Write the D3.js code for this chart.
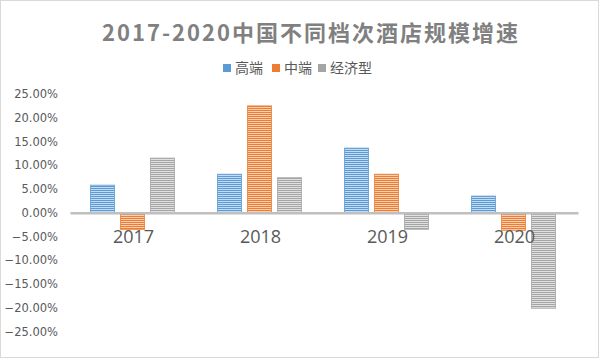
<!DOCTYPE html>
<html><head><meta charset="utf-8">
<script src="https://cdn.jsdelivr.net/npm/d3@7"></script>
<style>html,body{margin:0;padding:0;background:#fff;}svg{display:block;}</style>
</head><body>
<svg id="chart" width="600" height="360"></svg>
<script>
const title = "2017-2020中国不同档次酒店规模增速";
const years = ["2017", "2018", "2019", "2020"];
const seriesNames = ["高端", "中端", "经济型"];
const highEnd = [5.8, 8.1, 13.6, 3.5];
const midRange = [-3.5, 22.5, 8.1, -3.7];
const economy = [11.5, 7.4, -3.5, -20.1];
const yTicks = [25, 20, 15, 10, 5, 0, -5, -10, -15, -20, -25];
const colors = ["#5b9bd5", "#ed7d31", "#a5a5a5"];
const lightColors = ["#c4dbf1", "#f8cfb2", "#e0e0e0"];

const seriesValues = [highEnd, midRange, economy];
const svg = d3.select("#chart");
const defs = svg.append("defs");
colors.forEach((c, i) => {
  const p = defs.append("pattern").attr("id", "pat" + i)
    .attr("patternUnits", "userSpaceOnUse").attr("width", 4).attr("height", 2);
  p.append("rect").attr("width", 4).attr("height", 2).attr("fill", lightColors[i]);
  p.append("rect").attr("width", 4).attr("height", 1).attr("fill", c);
});

svg.append("rect").attr("x", 0.5).attr("y", 0.5).attr("width", 598).attr("height", 357)
  .attr("fill", "#fff").attr("stroke", "#d9d9d9");

svg.append("text").attr("x", 311).attr("y", 41).attr("text-anchor", "middle")
  .attr("font-family", "'Noto Sans CJK SC', sans-serif").attr("font-weight", "bold")
  .attr("font-size", 22).attr("letter-spacing", 2).attr("fill", "#808080").text(title);

const x0 = d3.scaleBand().domain(years).range([70, 578]).padding(0);
const x1 = d3.scaleBand().domain(seriesNames).range([20, 105]).paddingInner(1/6);
const y = d3.scaleLinear().domain([-25, 25]).range([331.5, 94]);

// y tick labels
const yAxis = d3.axisLeft(y).tickValues(yTicks).tickSize(0).tickPadding(0)
  .tickFormat(d => d3.format(".2f")(d) + "%");
const ya = svg.append("g").attr("transform", "translate(58,0)").call(yAxis);
ya.select(".domain").remove();
ya.selectAll("text").attr("font-family", "'DejaVu Sans', sans-serif").attr("font-size", 11.5)
  .attr("fill", "#595959");

// bars
const g = svg.append("g");
seriesNames.forEach((s, si) => {
  g.selectAll(".b" + si).data(years).enter().append("rect")
    .attr("x", d => x0(d) + x1(s) + 0.5)
    .attr("width", x1.bandwidth() - 1)
    .attr("y", (d, i) => Math.min(y(seriesValues[si][i]), y(0)))
    .attr("height", (d, i) => Math.abs(y(seriesValues[si][i]) - y(0)))
    .attr("fill", "url(#pat" + si + ")")
    .attr("stroke", colors[si]).attr("stroke-opacity", 0.8).attr("stroke-width", 1);
});

// x axis
const xAxis = d3.axisBottom(x0).tickSize(0).tickPadding(0);
const xa = svg.append("g").attr("transform", `translate(0,${y(0)})`).call(xAxis);
xa.select(".domain").attr("stroke", "#bfbfbf").attr("stroke-width", 2.5);
xa.selectAll("text").attr("font-family", "'Open Sans', sans-serif").attr("font-size", 18)
  .attr("fill", "#595959").attr("dy", "1.7em").attr("y", 0);

// legend
const legendX = [223, 272, 318];
seriesNames.forEach((s, i) => {
  const lg = svg.append("g").attr("transform", `translate(${legendX[i]},64)`);
  lg.append("rect").attr("width", 8).attr("height", 8).attr("fill", colors[i]);
  lg.append("text").attr("x", 12).attr("y", 8.5).attr("font-family", "'Noto Sans CJK SC', sans-serif")
    .attr("font-size", 14).attr("fill", "#595959").text(s);
});
</script>
</body></html>
